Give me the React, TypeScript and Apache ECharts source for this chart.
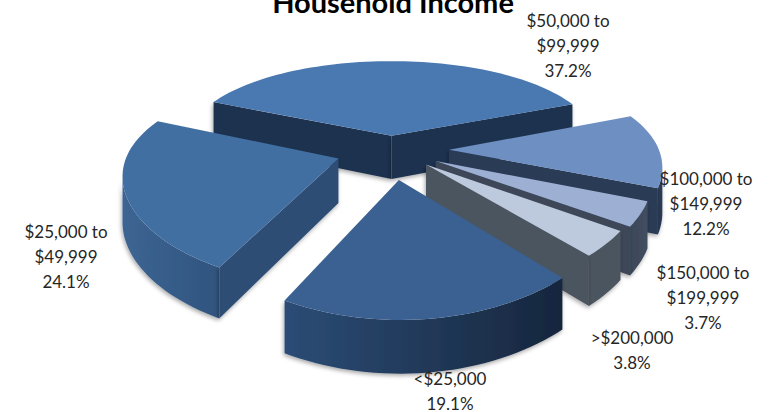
import React, { useEffect, useRef } from "react";
import * as echarts from "echarts";

const categories = ["$50,000 to\n$99,999", "$100,000 to\n$149,999", "$150,000 to\n$199,999", ">$200,000", "<$25,000", "$25,000 to\n$49,999"];
const shares = [37.2, 12.2, 3.7, 3.8, 19.1, 24.1];
const title = "Household Income";

// styling and layout of each slice
const explodes = [32, 58, 50, 46, 62, 55];
const drawRank = [0, 1, 2, 3, 5, 4];
const topColors = ["#4A79B2", "#6E8FC1", "#9DB0D3", "#BDC9DD", "#3A6191", "#426FA1"];
const wallColors = ["#1F3350", "#2C3B55", "#3C4759", "#4C545E", "#1B2E4A", "#2E4D75"];
const arcColors: string[][] = [
  ["#1F3350", "#1F3350"], ["#2C3B55", "#2C3B55"], ["#3C4759", "#434E60"], ["#4C545E", "#4C545E"],
  ["#2C4C75", "#16263D"], ["#3D6593", "#30547F"],
];
const labelX = [568, 706, 703, 632, 450, 66];
const labelY = [45, 203, 297, 350, 391, 256];

const CX = 391, CY = 150, R = 210, H = 44, D = 1500, DY = 1000, A = 456, START = -66;

const total = shares.reduce((a, b) => a + b, 0);
const project = (X: number, Z: number, lift: number): [number, number] => {
  const s = D / (D - Z);
  return [CX + X * s, CY + (A * Z) / (DY - Z) + lift * H * s];
};
const area = (p: number[][]) => {
  let a = 0;
  for (let i = 0; i < p.length; i++) {
    const q = p[(i + 1) % p.length];
    a += p[i][0] * q[1] - q[0] * p[i][1];
  }
  return a / 2;
};

function renderSlice(params: any, api: any) {
  const i = params.dataIndex;
  let before = 0;
  for (let k = 0; k < i; k++) before += shares[k];
  const a0 = START + (before / total) * 360;
  const a1 = a0 + (api.value(0) / total) * 360;
  const mid = (((a0 + a1) / 2) * Math.PI) / 180;
  const ox = Math.sin(mid) * explodes[i];
  const oz = -Math.cos(mid) * explodes[i];
  const at = (deg: number, r: number, lift: number) => {
    const t = (deg * Math.PI) / 180;
    return project(ox + Math.sin(t) * r, oz - Math.cos(t) * r, lift);
  };
  const steps = Math.max(2, Math.ceil((a1 - a0) / 2));
  const degs: number[] = [];
  for (let k = 0; k <= steps; k++) degs.push(a0 + ((a1 - a0) * k) / steps);

  const children: any[] = [];
  const z2 = drawRank[i];
  const shadow = { shadowBlur: 4, shadowColor: "rgba(0,0,0,0.35)", shadowOffsetX: -1, shadowOffsetY: 2 };
  const walls = (pts: number[][], fill: any) => {
    children.push({ type: "polygon", z2, shape: { points: pts }, style: { fill, stroke: null, ...shadow } });
  };
  // outer wall: only the segments facing the viewer
  let run: number[] = [];
  const flush = () => {
    if (run.length > 1) {
      const upper = run.map((d) => at(d, R, 0));
      const lower = run.map((d) => at(d, R, 1)).reverse();
      const c = arcColors[i];
      walls(upper.concat(lower), new echarts.graphic.LinearGradient(0, 0, 1, 0, [
        { offset: 0, color: c[0] }, { offset: 1, color: c[1] },
      ]));
    }
    run = [];
  };
  for (let k = 0; k < steps; k++) {
    const q = [at(degs[k], R, 0), at(degs[k + 1], R, 0), at(degs[k + 1], R, 1), at(degs[k], R, 1)];
    if (area(q) < 0) {
      if (run.length === 0) run.push(degs[k]);
      run.push(degs[k + 1]);
    } else flush();
  }
  flush();
  // radial walls
  const wallA = [at(a0, 0, 0), at(a0, R, 0), at(a0, R, 1), at(a0, 0, 1)];
  const wallB = [at(a1, R, 0), at(a1, 0, 0), at(a1, 0, 1), at(a1, R, 1)];
  if (area(wallA) < 0) walls(wallA, wallColors[i]);
  if (area(wallB) < 0) walls(wallB, wallColors[i]);
  // top face
  const topPts = [at(a0, 0, 0), ...degs.map((d) => at(d, R, 0))];
  children.push({ type: "polygon", z2, shape: { points: topPts }, style: { fill: topColors[i], stroke: null } });
  return { type: "group", children };
}

export default function App() {
  const ref = useRef<HTMLDivElement>(null);
  useEffect(() => {
    const chart = echarts.init(ref.current!, null, { renderer: "svg" });
    const font = "Lato, sans-serif";
    chart.setOption({
      animation: false,
      backgroundColor: "#ffffff",
      title: {
        text: title, left: 388, top: -18, textAlign: "center",
        textStyle: { fontFamily: font, fontSize: 29, fontWeight: "bold", color: "#000" },
      },
      series: [{
        type: "custom", coordinateSystem: "none", silent: true,
        renderItem: renderSlice,
        data: shares.map((v) => [v]),
      }],
      graphic: categories.map((c, i) => ({
        type: "text", x: labelX[i], y: labelY[i], silent: true, z: 10,
        style: {
          text: `${c}\n${shares[i].toFixed(1)}%`, align: "center", verticalAlign: "middle",
          font: `17px ${font}`, lineHeight: 25, fill: "#262626",
        },
      })),
    });
    return () => chart.dispose();
  }, []);
  return <div ref={ref} style={{ position: "fixed", left: 0, top: 0, width: 781, height: 412 }} />;
}
